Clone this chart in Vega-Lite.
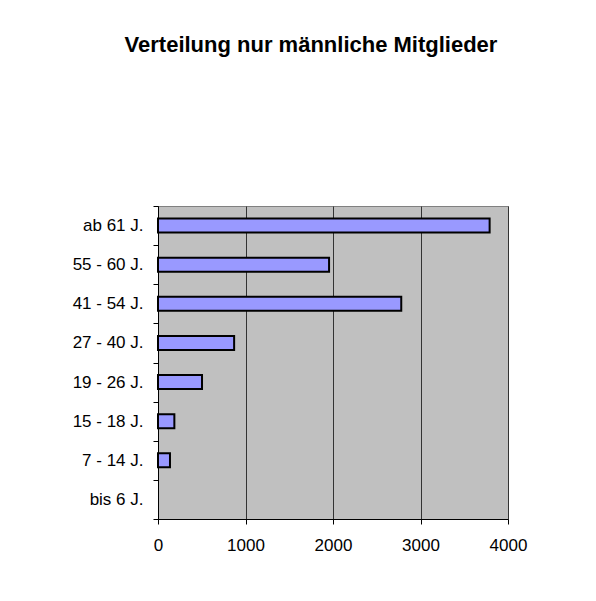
{
  "$schema": "https://vega.github.io/schema/vega-lite/v6.json",
  "autosize": {"type": "none"},
  "width": 350,
  "height": 313,
  "padding": {"left": 158, "top": 206, "right": 88, "bottom": 82},
  "background": "white",
  "title": {"text": "Verteilung nur männliche Mitglieder", "font": "Liberation Sans", "fontSize": 22, "fontWeight": "bold", "color": "black", "anchor": "middle", "offset": 140, "dx": -22},
  "data": {"values": [
    {"Alter": "ab 61 J.", "Anzahl": 3790},
    {"Alter": "55 - 60 J.", "Anzahl": 1955},
    {"Alter": "41 - 54 J.", "Anzahl": 2780},
    {"Alter": "27 - 40 J.", "Anzahl": 870},
    {"Alter": "19 - 26 J.", "Anzahl": 503},
    {"Alter": "15 - 18 J.", "Anzahl": 187},
    {"Alter": "7 - 14 J.", "Anzahl": 137},
    {"Alter": "bis 6 J.", "Anzahl": 0}
  ]},
  "mark": {"type": "bar", "color": "#9999FF", "stroke": "black", "height": {"band": 0.36}},
  "encoding": {
    "y": {"field": "Alter", "type": "nominal", "sort": ["ab 61 J.", "55 - 60 J.", "41 - 54 J.", "27 - 40 J.", "19 - 26 J.", "15 - 18 J.", "7 - 14 J.", "bis 6 J."],
      "scale": {"paddingInner": 0, "paddingOuter": 0},
      "axis": {"title": null, "domainColor": "black", "tickColor": "black", "tickSize": 5, "tickBand": "extent", "labelFont": "Liberation Sans", "labelFontSize": 17, "labelColor": "black", "labelPadding": 10, "grid": false}},
    "x": {"field": "Anzahl", "type": "quantitative", "scale": {"domain": [0, 4000], "nice": false},
      "axis": {"title": null, "values": [0, 1000, 2000, 3000, 4000], "format": "d", "grid": true, "gridColor": "#333333", "gridWidth": 1, "gridOpacity": 1, "domainColor": "black", "tickColor": "black", "tickSize": 5, "labelFont": "Liberation Sans", "labelFontSize": 17, "labelColor": "black", "labelPadding": 13, "labelFlush": false}},
    "strokeWidth": {"condition": {"test": "datum.Anzahl > 0", "value": 2}, "value": 0}
  },
  "config": {"view": {"fill": "#C0C0C0", "stroke": "#808080"}}
}
